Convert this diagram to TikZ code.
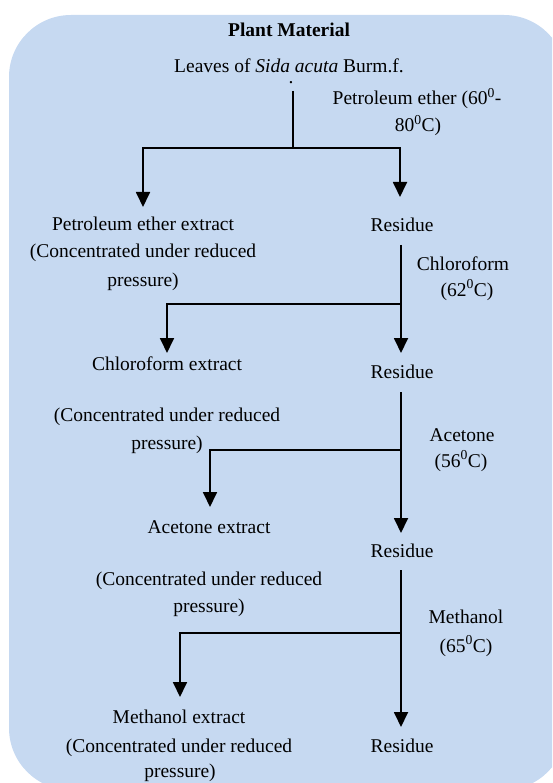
\documentclass[tikz,border=0pt]{standalone}
\usepackage{fontspec}
\setmainfont{Liberation Serif}
\usetikzlibrary{arrows.meta}
\definecolor{bgblue}{RGB}{198,217,241}
\tikzset{
  txt/.style={anchor=base,inner sep=0pt,font=\fontsize{19.5}{28}\selectfont},
  conn/.style={line width=1.8pt},
  arr/.style={line width=1.8pt,-{Triangle[width=14pt,length=15pt]}}
}
\newcommand{\dg}{\textsuperscript{0}}
\begin{document}
\begin{tikzpicture}[x=1pt,y=-1pt]
\useasboundingbox (0,0) rectangle (552,783);
\clip (0,0) rectangle (552,783);
\fill[bgblue,rounded corners=62pt] (9,15) rectangle (566,790);
% texts
\node[txt,font=\fontsize{19.5}{28}\selectfont\bfseries] (title) at (289,37) {Plant Material};
\node[txt] (leaves) at (289,73) {Leaves of \textit{Sida acuta} Burm.f.};
\node[txt] (dot) at (291,84) {.};
\node[txt] (pe1) at (417,105) {Petroleum ether (60\dg-};
\node[txt] (pe2) at (418,132) {80\dg C)};
\node[txt] (pex1) at (143,231) {Petroleum ether extract};
\node[txt] (pex2) at (143,258) {(Concentrated under reduced};
\node[txt] (pex3) at (143,286) {pressure)};
\node[txt] (res1) at (402,232) {Residue};
\node[txt] (ch1) at (463,270) {Chloroform};
\node[txt] (ch2) at (467,296) {(62\dg C)};
\node[txt] (chx1) at (167,370) {Chloroform extract};
\node[txt] (res2) at (402,378) {Residue};
\node[txt] (chx2) at (167,421) {(Concentrated under reduced};
\node[txt] (chx3) at (167,449) {pressure)};
\node[txt] (ac1) at (462,441) {Acetone};
\node[txt] (ac2) at (461,467) {(56\dg C)};
\node[txt] (acx1) at (209,533) {Acetone extract};
\node[txt] (res3) at (402,557) {Residue};
\node[txt] (acx2) at (209,585) {(Concentrated under reduced};
\node[txt] (acx3) at (209,612) {pressure)};
\node[txt] (me1) at (466,623) {Methanol};
\node[txt] (me2) at (466,652) {(65\dg C)};
\node[txt] (mex1) at (179,723) {Methanol extract};
\node[txt] (mex2) at (179,752) {(Concentrated under reduced};
\node[txt] (mex3) at (180,777) {pressure)};
\node[txt] (res4) at (402,752) {Residue};
% connector points
\coordinate (s0) at (293,91);
\coordinate (j0) at (293,148);
\coordinate (t0l) at (143,207);
\coordinate (t0r) at (400,197);
\coordinate (s1) at (401,245);
\coordinate (j1) at (401,304);
\coordinate (t1r) at (401,353);
\coordinate (t1l) at (167,353);
\coordinate (s2) at (401,392);
\coordinate (j2) at (401,450);
\coordinate (t2r) at (401,533);
\coordinate (t2l) at (210,507);
\coordinate (s3) at (401,570);
\coordinate (j3) at (401,633);
\coordinate (t3r) at (401,727);
\coordinate (t3l) at (180,697);
% connectors
\draw[conn] (s0) -- (j0);
\draw[arr] (j0) -| (t0l);
\draw[arr] (j0) -| (t0r);
\draw[arr] (s1) -- (t1r);
\draw[arr] (j1) -| (t1l);
\draw[arr] (s2) -- (t2r);
\draw[arr] (j2) -| (t2l);
\draw[arr] (s3) -- (t3r);
\draw[arr] (j3) -| (t3l);
\end{tikzpicture}
\end{document}
